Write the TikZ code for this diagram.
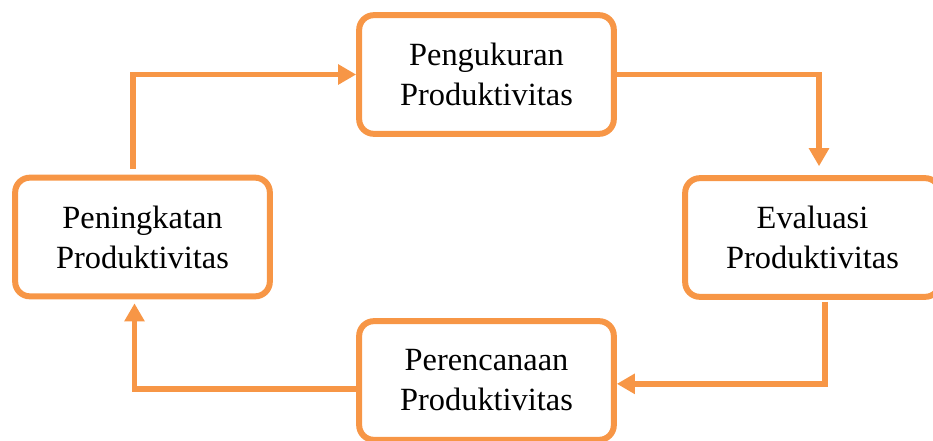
\documentclass[tikz,border=0pt]{standalone}
\usepackage{fontspec}
\setmainfont{Liberation Serif}
\usepackage{tikz}
\usetikzlibrary{arrows.meta}
\definecolor{accent}{HTML}{F79646}
\tikzset{
  stage/.style={draw=accent, line width=4.5pt, rounded corners=11pt,
    minimum width=191pt, minimum height=89pt, align=center,
    font=\fontsize{24.3}{30}\selectfont},
  flow/.style={draw=accent, line width=4.1pt,
    -{Triangle[length=13.5pt, width=14.5pt]}}
}
\begin{document}
\begin{tikzpicture}[x=0.75pt, y=-0.75pt]
  \useasboundingbox (0,0) rectangle (933,440);

  % Stages
  \node[stage] (ukur) at (486.5,74.5) {Pengukuran\\Produktivitas};
  \node[stage] (evaluasi) at (812.5,237.5) {Evaluasi\\Produktivitas};
  \node[stage] (rencana) at (486.5,380.5) {Perencanaan\\Produktivitas};
  \node[stage] (tingkat) at (142.5,237) {Peningkatan\\Produktivitas};

  % Cycle
  \draw[flow] ([xshift=-7.1pt, yshift=4.5pt]tingkat.north) |- (ukur.west);
  \draw[flow] (ukur.east) -| ([xshift=4.9pt, yshift=6.7pt]evaluasi.north);
  \draw[flow] ([xshift=9.4pt, yshift=-1.5pt]evaluasi.south) |- ([yshift=-2.5pt]rencana.east);
  \draw[flow] ([yshift=-6.4pt]rencana.west) -| ([xshift=-6pt, yshift=-3pt]tingkat.south);
\end{tikzpicture}
\end{document}
